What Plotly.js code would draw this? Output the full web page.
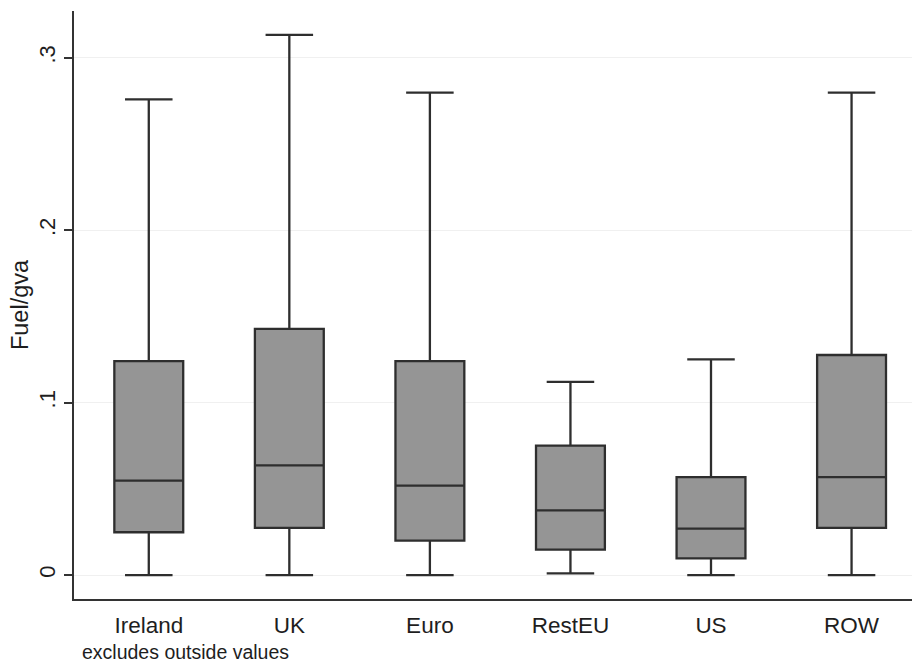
<!DOCTYPE html>
<html>
<head>
<meta charset="utf-8">
<script src="https://cdn.plot.ly/plotly-3.0.1.min.js"></script>
<style>html,body{margin:0;padding:0;background:#fff;}#chart{width:912px;height:663px;}</style>
</head>
<body>
<div id="chart"></div>
<script>
var categories = ["Ireland", "UK", "Euro", "RestEU", "US", "ROW"];
var lowerWhisker = [0.0, 0.0, 0.0, 0.001, 0.0, 0.0];
var q1Values = [0.0248, 0.0274, 0.0199, 0.0147, 0.0097, 0.0274];
var medianValues = [0.0547, 0.0636, 0.0518, 0.0375, 0.0269, 0.0568];
var q3Values = [0.1241, 0.1427, 0.1241, 0.0750, 0.0568, 0.1276];
var upperWhisker = [0.2759, 0.3132, 0.2798, 0.1120, 0.1251, 0.2798];
var yTickVals = [0, 0.1, 0.2, 0.3];
var yTickText = ["0", ".1", ".2", ".3"];

var trace = {
  type: "box",
  x: categories,
  q1: q1Values,
  median: medianValues,
  q3: q3Values,
  lowerfence: lowerWhisker,
  upperfence: upperWhisker,
  fillcolor: "#959595",
  line: {color: "#2e2e2e", width: 2.3},
  width: 0.49,
  whiskerwidth: 0.69,
  boxpoints: false,
  hoverinfo: "skip",
  showlegend: false
};

var fontFam = "Liberation Sans, Arial, sans-serif";
var layout = {
  width: 912, height: 663,
  margin: {l: 74, r: 0, t: 11, b: 64},
  paper_bgcolor: "#ffffff",
  plot_bgcolor: "#ffffff",
  font: {family: fontFam, color: "#222222", size: 22},
  xaxis: {
    type: "category",
    range: [-0.532, 5.43],
    showline: true, linecolor: "#333333", linewidth: 2,
    showgrid: false, zeroline: false,
    ticks: "", tickfont: {size: 22.5, family: fontFam, color: "#1e1e1e"},
    ticklabelstandoff: 5,
    automargin: false
  },
  yaxis: {
    range: [-0.0139, 0.3271],
    tickvals: yTickVals, ticktext: yTickText,
    tickangle: -90,
    showline: true, linecolor: "#333333", linewidth: 2,
    ticks: "outside", ticklen: 8, tickwidth: 2, tickcolor: "#333333",
    showgrid: true, gridcolor: "#f0f0f0", gridwidth: 1,
    zeroline: false,
    tickfont: {size: 22, family: fontFam, color: "#1e1e1e"},
    automargin: false,
    title: {text: "Fuel/gva", font: {size: 23.5, family: fontFam, color: "#1e1e1e"}, standoff: 0}
  },
  annotations: [{
    text: "excludes outside values",
    xref: "paper", yref: "paper",
    x: 0.007, y: -0.0901, xanchor: "left", yanchor: "middle",
    showarrow: false,
    font: {size: 19.5, family: fontFam, color: "#1e1e1e"}
  }]
};

Plotly.newPlot("chart", [trace], layout, {displayModeBar: false, staticPlot: true});
</script>
</body>
</html>
